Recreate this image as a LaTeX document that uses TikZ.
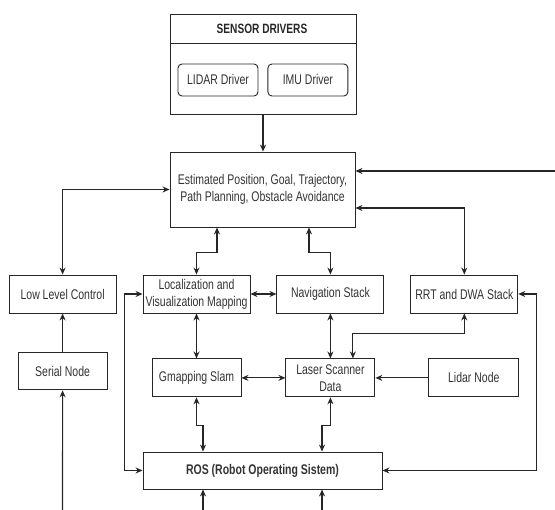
\documentclass[tikz,border=0pt]{standalone}
\usepackage{fontspec}
\setmainfont[FakeStretch=0.75]{Liberation Sans}
\usepackage{tikz}
\usetikzlibrary{arrows.meta, positioning}

\begin{document}
\begin{tikzpicture}[
  x=1pt, y=-1pt, node distance=26pt,
  box/.style={rectangle, draw=black!85, line width=0.9pt, text=black!80, align=center,
    minimum width=107pt, minimum height=38pt, inner sep=1pt,
    font=\fontsize{14}{17}\selectfont},
  drv/.style={box, rounded corners=4pt, minimum width=80pt, minimum height=32pt},
  arrow/.style={draw=black!85, line width=1.1pt, -{Stealth[length=7pt,width=6pt]}},
  dbl/.style={arrow, {Stealth[length=7pt,width=6pt]}-{Stealth[length=7pt,width=6pt]}}
]
  \useasboundingbox (0,0) rectangle (555,510);

  % sensor drivers group
  \node [box, minimum width=186pt, minimum height=100pt] (sensors) at (263,64) {};
  \draw [draw=black!85, line width=0.9pt] (sensors.west |- 0,43) -- (sensors.east |- 0,43);
  \node [font=\fontsize{13.5}{17}\selectfont\bfseries, text=black!85] (title) at (262,28.5) {SENSOR DRIVERS};
  \node [drv] (lidardrv) at (218,80) {LIDAR Driver};
  \node [drv, right=9pt of lidardrv] (imudrv) {IMU Driver};

  % main blocks
  \node [box, minimum width=185pt, minimum height=75pt] (est) at (262.5,189.5)
    {Estimated Position, Goal, Trajectory,\\Path Planning, Obstacle Avoidance};
  \node [box] (loc) at (196.5,294) {Localization and\\Visualization Mapping};
  \node [box, right=of loc] (nav) {Navigation Stack};
  \node [box, right=of nav] (rrt) {RRT and DWA Stack};
  \node [box, left=of loc] (llc) {Low Level Control};
  \node [box, minimum width=89pt, minimum height=37pt, below=39pt of llc] (serial) {Serial Node};
  \node [box, minimum width=89pt, below=45pt of loc] (gmap) {Gmapping Slam};
  \node [box, minimum width=89pt, below=45pt of nav] (laser) {Laser Scanner\\Data};
  \node [box, minimum width=90pt, right=53pt of laser] (lidar) {Lidar Node};
  \node [box, minimum width=239pt, minimum height=37pt, font=\fontsize{14}{17}\selectfont\bfseries] (ros)
    at (262.5,470.5) {ROS (Robot Operating Sistem)};

  % free ends
  \coordinate (rin) at (555,171);
  \coordinate (sin) at (62.5,510);
  \coordinate (rosinl) at (203,510);
  \coordinate (rosinr) at (322,510);

  % connectors
  \draw [arrow] (sensors.south) -- (sensors.south |- est.north);
  \draw [arrow] (rin) -- (rin -| est.east);
  \draw [dbl] (rrt.north) |- ([yshift=-18.5pt]est.east);
  \draw [dbl] (llc.north) |- (est.west);
  \draw [dbl] ([xshift=-45.5pt]est.south) -- ++(0,25) -| (loc.north);
  \draw [dbl] ([xshift=46.5pt]est.south) -- ++(0,25) -| (nav.north);
  \draw [dbl] (loc.east) -- (nav.west);
  \draw [dbl] (loc.west) -- ++(-18,0) |- (ros.west);
  \draw [arrow] (serial.north) -- (llc.south);
  \draw [arrow] (sin) -- (serial.south);
  \draw [dbl] (loc.south) -- (gmap.north);
  \draw [dbl] (nav.south) -- (laser.north);
  \draw [dbl] (gmap.east) -- (laser.west);
  \draw [arrow] (lidar.west) -- (laser.east);
  \draw [dbl] ([xshift=22.5pt]laser.north) -- ++(0,-25) -| (rrt.south);
  \draw [dbl] (rrt.east) -- ++(18,0) |- (ros.east);
  \draw [dbl] (gmap.south) -- ++(0,28) -| ([xshift=-59.5pt]ros.north);
  \draw [dbl] (laser.south) -- ++(0,28) -| ([xshift=59.5pt]ros.north);
  \draw [arrow] (rosinl) -- (rosinl |- ros.south);
  \draw [arrow] (rosinr) -- (rosinr |- ros.south);
\end{tikzpicture}
\end{document}
